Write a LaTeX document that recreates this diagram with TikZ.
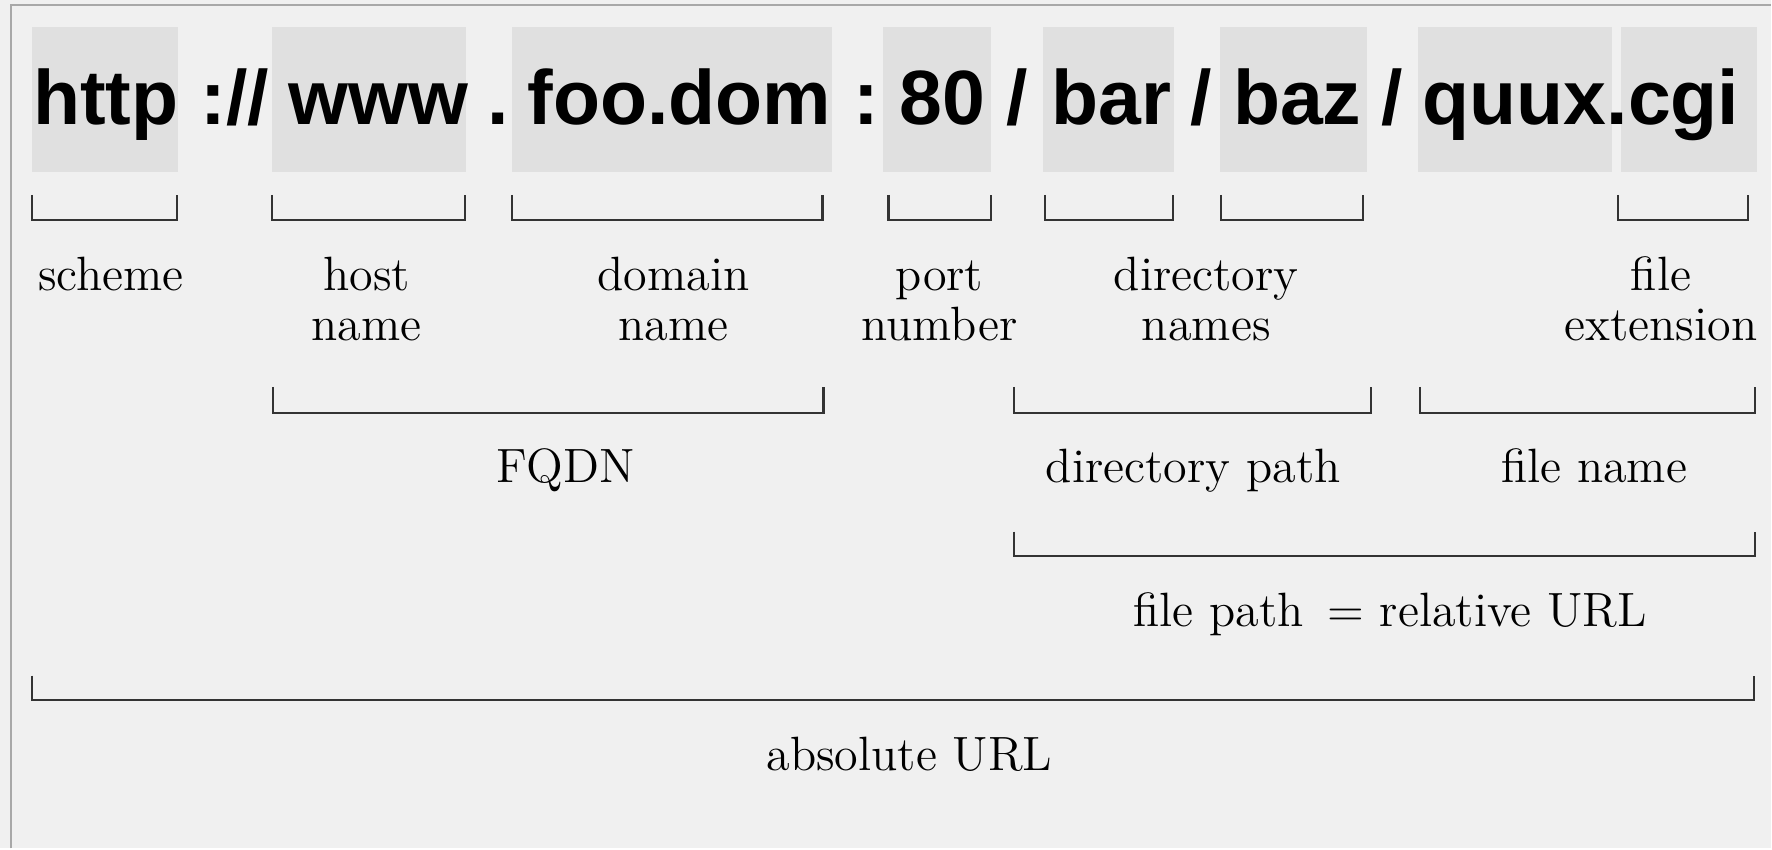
\documentclass[tikz,border=0pt]{standalone}
\usepackage{fontspec}
\newfontfamily\urlfont{Liberation Sans}
\definecolor{bggray}{HTML}{F0F0F0}
\definecolor{boxgray}{HTML}{E0E0E0}
\definecolor{framegray}{HTML}{A8A8A8}
\definecolor{linegray}{HTML}{333333}
\tikzset{
    url/.style={anchor=base,inner sep=0pt,font=\urlfont\bfseries\fontsize{21.9}{24}\selectfont},
    lbl/.style={anchor=base,inner sep=0pt,align=center,font=\fontsize{13.7}{14.2}\selectfont},
    bracket/.style={draw=linegray,line width=0.6pt},
}
\begin{document}
\begin{tikzpicture}[x=0.01cm,y=-0.01cm]
            \fill[bggray] (0,0) rectangle (1772,849);
            \draw[framegray,line width=0.6pt] (11,849)--(11,5)--(1772,5);
            % shaded parts of the url
            \foreach \a/\b in {32/178,272/466,512/832,884/992,1044/1175,1221/1368,1419/1613,1622/1758}{
                \fill[boxgray] (\a,27) rectangle (\b,172);
            }
            \node[url] (http) at (106,125) {http};
            \node[url] (sep1) at (235,125) {://};
            \node[url] (www) at (379,125) {www};
            \node[url] (sep2) at (498,125) {.};
            \node[url] (foo) at (680,125) {foo.dom};
            \node[url] (sep3) at (867,125) {:};
            \node[url] (port) at (943,125) {80};
            \node[url] (sep4) at (1018,125) {/};
            \node[url] (bar) at (1112,125) {bar};
            \node[url] (sep5) at (1202,125) {/};
            \node[url] (baz) at (1298,125) {baz};
            \node[url] (sep6) at (1393,125) {/};
            \node[url] (quux) at (1582,125) {quux.cgi};
            % brackets
            \foreach \a/\b in {32/177,272/465,512/823,889/992,1046/1174,1222/1364,1619/1749}{
                \draw[bracket] (\a,195) |- (\b,220) -- (\b,195);
            }
            \foreach \a/\b in {273/824,1015/1372,1421/1756}{
                \draw[bracket] (\a,387) |- (\b,413) -- (\b,387);
            }
            \draw[bracket] (1015,532) |- (1756,556) -- (1756,532);
            \draw[bracket] (32,676) |- (1755,700) -- (1755,676);
            % labels (two lines: base is the second line)
            \node[lbl] (scheme) at (111,291) {scheme};
            \node[lbl] (host) at (367,341) {host\\name};
            \node[lbl] (domain) at (674,341) {domain\\name};
            \node[lbl] (portnum) at (940,341) {port\\number};
            \node[lbl] (dirnames) at (1207,341) {directory\\names};
            \node[lbl] (ext) at (1662,341) {file\\extension};
            \node[lbl] (fqdn) at (566,483) {FQDN};
            \node[lbl] (dirpath) at (1194,483) {directory path};
            \node[lbl] (fname) at (1595,483) {file name};
            \node[lbl] (relurl) at (1391,627) {file path\, = relative URL};
            \node[lbl] (absurl) at (910,771) {absolute URL};
\end{tikzpicture}
\end{document}
